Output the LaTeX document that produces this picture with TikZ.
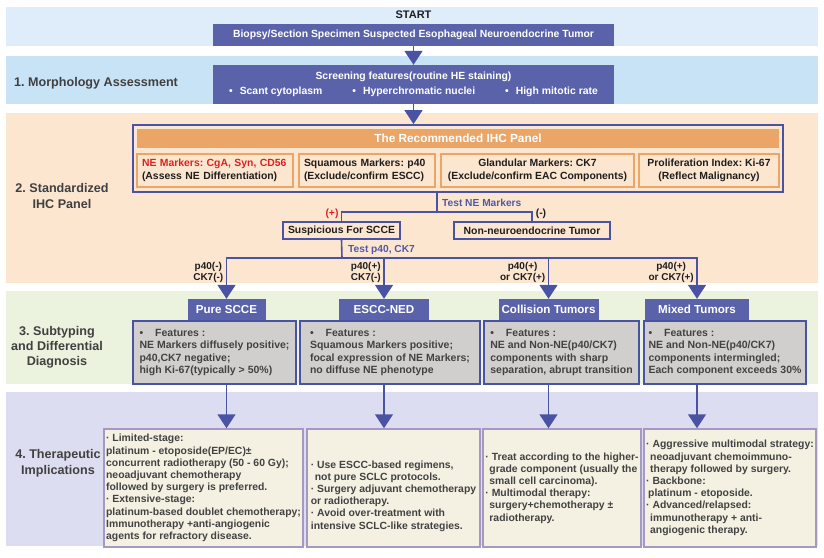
\documentclass[tikz,border=0pt]{standalone}
\usepackage{fontspec}
\setmainfont{Liberation Sans}
\usetikzlibrary{arrows.meta}
\definecolor{bandA}{HTML}{DEEDF9}
\definecolor{bandB}{HTML}{C9E3F6}
\definecolor{bandC}{HTML}{FDE6CF}
\definecolor{bandD}{HTML}{EBF2DE}
\definecolor{bandE}{HTML}{DDDDF1}
\definecolor{boxblue}{HTML}{5A63AA}
\definecolor{lineblue}{HTML}{4A52A3}
\definecolor{orangeh}{HTML}{EBA566}
\definecolor{graybox}{HTML}{D0CFCD}
\definecolor{creambox}{HTML}{F4F0E2}
\definecolor{purpleb}{HTML}{A598C2}
\definecolor{labelgray}{HTML}{404040}
\definecolor{txtgray}{HTML}{424242}
\definecolor{nered}{HTML}{E0201E}
\definecolor{testblue}{HTML}{5059A8}
\definecolor{darktxt}{HTML}{1E1E1E}
\begin{document}
\frenchspacing
\begin{tikzpicture}[x=1pt,y=-1pt,
  base/.style={inner sep=0pt, font=\bfseries\fontsize{10.4}{12.5}\selectfont},
  bluebox/.style={base, fill=boxblue, text=white, align=center},
  outerbox/.style={draw=lineblue, line width=1.8pt, inner sep=0pt},
  orhead/.style={base, fill=orangeh, text=white, font=\bfseries\fontsize{11.8}{13}\selectfont},
  subbox/.style={base, draw=orangeh, line width=1.2pt, fill=bandC, text=darktxt},
  decbox/.style={base, draw=lineblue, line width=1.5pt, fill=bandC, text=darktxt},
  hdr/.style={base, fill=boxblue, text=white, font=\bfseries\fontsize{11.6}{13}\selectfont},
  featbox/.style={base, draw=lineblue, line width=1.2pt, fill=graybox, text=txtgray, align=left, font=\bfseries\fontsize{10.5}{12.4}\selectfont},
  therbox/.style={base, draw=purpleb, line width=1.5pt, fill=creambox, text=txtgray, align=left, font=\bfseries\fontsize{10.4}{12.2}\selectfont},
  thertext/.style={base, text=txtgray, align=left, font=\bfseries\fontsize{10.4}{12.2}\selectfont},
  seclabel/.style={text=labelgray, align=center, inner sep=0pt},
  testlbl/.style={base, text=testblue, font=\bfseries\fontsize{10.2}{12}\selectfont},
  brlbl/.style={base, text=darktxt, align=center, font=\bfseries\fontsize{10}{11.5}\selectfont},
  conn/.style={draw=lineblue, line width=1.6pt},
  arr/.style={conn, -{Triangle[width=18pt,length=14pt]}}
]
\useasboundingbox (0,0) rectangle (824,557);
\fill[white] (0,0) rectangle (824,557);
% bands
\fill[bandA] (6,7) rectangle (818,46);
\fill[bandB] (6,56) rectangle (818,104);
\fill[bandC] (6,113) rectangle (818,283);
\fill[bandD] (6,291) rectangle (818,384);
\fill[bandE] (6,392) rectangle (818,546);

% section labels
\node[seclabel, font=\bfseries\fontsize{12.6}{16}\selectfont] (sec1) at (96,83) {1. Morphology Assessment};
\node[seclabel, font=\bfseries\fontsize{12.6}{16}\selectfont] (sec2) at (62,196) {2. Standardized\\IHC Panel};
\node[seclabel, font=\bfseries\fontsize{12.6}{15}\selectfont] (sec3) at (57,347) {3. Subtyping\\and Differential\\Diagnosis};
\node[seclabel, font=\bfseries\fontsize{12.6}{16}\selectfont] (sec4) at (58,463) {4. Therapeutic\\Implications};

% start
\node[base, font=\bfseries\fontsize{11}{13}\selectfont, text=darktxt] (start) at (413.5,15) {START};
\node[bluebox, minimum width=401pt, minimum height=22pt] (biopsy) at (413.5,35) {Biopsy/Section Specimen Suspected Esophageal Neuroendocrine Tumor};
\node[bluebox, minimum width=401pt, minimum height=39pt, font=\bfseries\fontsize{10.4}{15}\selectfont] (screen) at (413.5,84.5)
  {Screening features(routine HE staining)\\ •\hspace{7pt}Scant cytoplasm\hspace{30pt}•\hspace{7pt}Hyperchromatic nuclei\hspace{30pt}•\hspace{7pt}High mitotic rate};

% IHC panel
\node[outerbox, minimum width=650pt, minimum height=67pt] (ihc) at (458,158.5) {};
\node[orhead, minimum width=642pt, minimum height=19pt] (ihchead) at (458,138.5) {The Recommended IHC Panel};
\node[subbox, minimum width=156pt, minimum height=33pt, align=left, text width=150pt, inner xsep=3pt] (m1) at (215,170.5)
  {\hspace{2pt}\textcolor{nered}{NE Markers: CgA, Syn, CD56}\\\hspace{2pt}(Assess NE Differentiation)};
\node[subbox, minimum width=136pt, minimum height=33pt, align=left, text width=130pt, inner xsep=3pt] (m2) at (367,170.5)
  {\hspace{2pt}Squamous Markers: p40\\\hspace{2pt}(Exclude/confirm ESCC)};
\node[subbox, minimum width=193pt, minimum height=33pt, align=center] (m3) at (537.5,170.5)
  {Glandular Markers: CK7\\(Exclude/confirm EAC Components)};
\node[subbox, minimum width=140pt, minimum height=33pt, align=center] (m4) at (709,170.5)
  {Proliferation Index: Ki-67\\(Reflect Malignancy)};

\node[decbox, minimum width=117pt, minimum height=17pt] (susp) at (341.5,230.5) {Suspicious For SCCE};
\node[decbox, minimum width=156pt, minimum height=17pt] (nonne) at (532,230.5) {Non-neuroendocrine Tumor};

\coordinate (j1) at (437,212);
\coordinate (j2) at (342,258);

\node[testlbl, anchor=west] (tne) at (442,203) {Test NE Markers};
\node[base, text=nered] (plus) at (332,213.5) {(+)};
\node[base, text=darktxt] (minus) at (541,213.5) {(-)};
\node[testlbl, anchor=west] (tpc) at (348,249.5) {Test p40, CK7};

% headers
\node[hdr, minimum width=78pt, minimum height=21pt] (h1) at (226.5,309.5) {Pure SCCE};
\node[hdr, minimum width=90pt, minimum height=21pt] (h2) at (384,309.5) {ESCC-NED};
\node[hdr, minimum width=100pt, minimum height=21pt] (h3) at (548.5,309.5) {Collision Tumors};
\node[hdr, minimum width=104pt, minimum height=21pt] (h4) at (697,309.5) {Mixed Tumors};

\node[brlbl, anchor=east] (l1) at (223.5,272.5) {p40(-)\\CK7(-)};
\node[brlbl, anchor=east] (l2) at (381,272.5) {p40(+)\\CK7(-)};
\node[brlbl, anchor=east] (l3) at (545.5,272.5) {p40(+)\\or CK7(+)};
\node[brlbl, anchor=east] (l4) at (694,272.5) {p40(+)\\or CK7(+)};

% feature boxes
\node[featbox, minimum width=163pt, minimum height=63pt] (f1) at (214.5,352.5)
  {•\hspace{12pt}Features :\\NE Markers diffusely positive;\\p40,CK7 negative;\\high Ki-67(typically > 50\%)};
\node[featbox, minimum width=180pt, minimum height=63pt] (f2) at (390,352.5)
  {•\hspace{12pt}Features :\\Squamous Markers positive;\\focal expression of NE Markers;\\no diffuse NE phenotype};
\node[featbox, minimum width=155pt, minimum height=63pt] (f3) at (561.5,352.5)
  {•\hspace{12pt}Features :\\NE and Non-NE(p40/CK7)\\components with sharp\\separation, abrupt transition};
\node[featbox, minimum width=162pt, minimum height=63pt] (f4) at (725,352.5)
  {•\hspace{12pt}Features :\\NE and Non-NE(p40/CK7)\\components intermingled;\\Each component exceeds 30\%};

% therapy boxes
\node[therbox, minimum width=199pt, minimum height=118pt] (t1) at (203.5,488)
  {· Limited-stage:\\platinum - etoposide(EP/EC)±\\concurrent radiotherapy (50 - 60 Gy);\\neoadjuvant chemotherapy\\followed by surgery is preferred.\\· Extensive-stage:\\platinum-based doublet chemotherapy;\\Immunotherapy +anti-angiogenic\\agents for refractory disease.};
\node[therbox, minimum width=173pt, minimum height=118pt] (t2) at (393.5,488) {};
\node[thertext] (t2txt) at ([yshift=-8pt]t2.center)
  {· Use ESCC-based regimens,\\\hspace{4pt}not pure SCLC protocols.\\· Surgery adjuvant chemotherapy\\or radiotherapy.\\· Avoid over-treatment with\\intensive SCLC-like strategies.};
\node[therbox, minimum width=158pt, minimum height=118pt] (t3) at (562,488)
  {· Treat according to the higher-\\\hspace{4pt}grade component (usually the\\\hspace{4pt}small cell carcinoma).\\· Multimodal therapy:\\\hspace{4pt}surgery+chemotherapy ±\\\hspace{4pt}radiotherapy.};
\node[therbox, minimum width=172pt, minimum height=118pt] (t4) at (730,488)
  {· Aggressive multimodal strategy:\\\hspace{4pt}neoadjuvant chemoimmuno-\\\hspace{4pt}therapy followed by surgery.\\· Backbone:\\\hspace{2pt}platinum - etoposide.\\· Advanced/relapsed:\\\hspace{4pt}immunotherapy + anti-\\\hspace{4pt}angiogenic therapy.};

% connectors
\draw[arr] (biopsy.south) -- (screen.north);
\draw[arr] (screen.south) -- (ihc.north -| screen.south);
\draw[conn] (ihc.south -| j1) -- (j1);
\draw[conn] (j1) -| (susp.north);
\draw[conn] (j1) -| (nonne.north);
\draw[conn] (susp.south) -- (j2);
\draw[arr] (j2) -| (h1.north);
\draw[arr] (j2) -| (h4.north);
\draw[arr] (h2.north |- j2) -- (h2.north);
\draw[arr] (h3.north |- j2) -- (h3.north);

\draw[arr] (f1.south -| h1) -- (t1.north -| h1);
\draw[arr] (f2.south -| h2) -- (t2.north -| h2);
\draw[arr] (f3.south -| h3) -- (t3.north -| h3);
\draw[arr] (f4.south -| h4) -- (t4.north -| h4);
\end{tikzpicture}
\end{document}
